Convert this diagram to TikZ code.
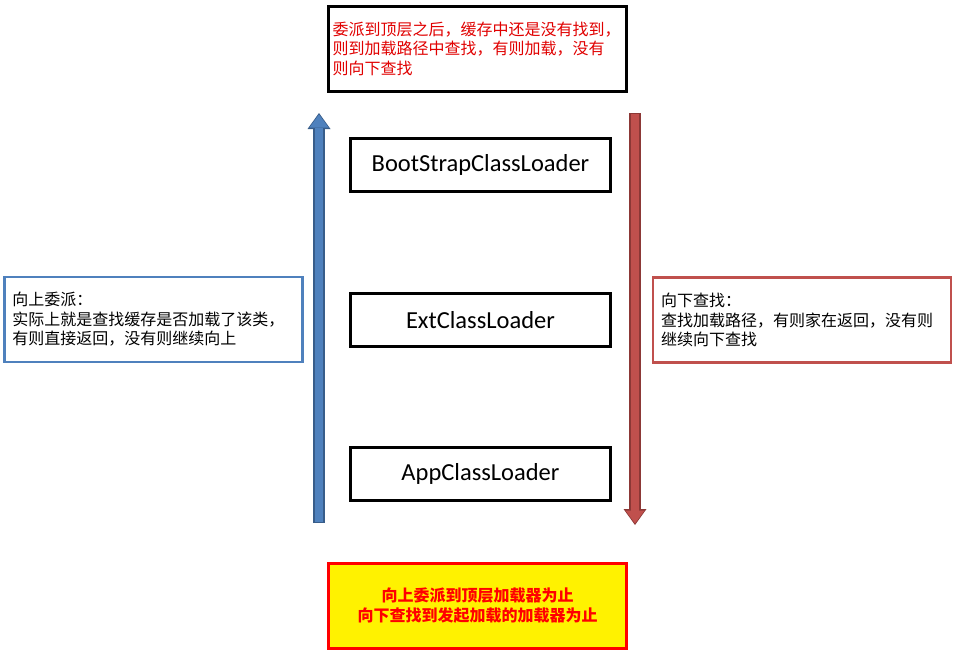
\documentclass[tikz,border=0pt]{standalone}
\usepackage{fontspec}
\setmainfont{Noto Sans CJK SC}
\newfontfamily\latinfont{Carlito}
\usetikzlibrary{arrows.meta}

\definecolor{upblue}{HTML}{4F81BD}
\definecolor{upblueedge}{HTML}{385D8A}
\definecolor{downred}{HTML}{C0504D}
\definecolor{downrededge}{HTML}{8C3836}
\definecolor{notered}{HTML}{E00000}

\tikzset{
  loader/.style={draw=black, line width=3pt, minimum width=260pt, minimum height=53pt,
    font=\latinfont\fontsize{24.5}{28}\selectfont},
  note/.style={line width=2.5pt, minimum height=85pt, text width=282pt, inner xsep=8pt,
    align=left, font=\fontsize{16}{19.5}\selectfont},
}

\begin{document}
\begin{tikzpicture}[x=1pt, y=-1pt]
    \useasboundingbox (0,0) rectangle (961,662);

    % top note
    \node[note, draw=black, line width=3pt, text width=290pt, inner xsep=4pt, text=notered] (topnote) at (477.5,48.5)
      {委派到顶层之后，缓存中还是没有找到，\\则到加载路径中查找，有则加载，没有\\则向下查找};

    % class loaders
    \node[loader] (boot) at (480.5,165) {BootStrapClassLoader};
    \node[loader] (ext) at (480.5,320) {ExtClassLoader};
    \node[loader] (app) at (480.5,474) {AppClassLoader};

    % side notes
    \node[note, draw=upblue] (upnote) at (153.5,319.5)
      {向上委派：\\实际上就是查找缓存是否加载了该类，\\有则直接返回，没有则继续向上};
    \node[note, draw=downred] (downnote) at (802,320)
      {向下查找：\\查找加载路径，有则家在返回，没有则\\继续向下查找};

    % arrows
    \coordinate (upfoot) at (319,523);
    \coordinate (uptip) at (319,113);
    \coordinate (downfoot) at (635,113);
    \coordinate (downtip) at (635,525);
    \draw[upblueedge, line width=11.5pt, -{Triangle[width=23pt, length=16pt, line width=0pt]}] (upfoot) -- (uptip);
    \draw[upblue, line width=8.5pt, shorten >=1.5pt, -{Triangle[width=19pt, length=13pt, line width=0pt]}] (upfoot) ++(0,-1) -- (uptip);
    \draw[downrededge, line width=11.5pt, -{Triangle[width=23pt, length=16pt, line width=0pt]}] (downfoot) -- (downtip);
    \draw[downred, line width=8.5pt, shorten >=1.5pt, -{Triangle[width=19pt, length=13pt, line width=0pt]}] (downfoot) ++(0,1) -- (downtip);

    % bottom note
    \node[note, draw=red, line width=3pt, fill=yellow, align=center, text=red,
      font=\fontsize{16}{20}\selectfont\bfseries] (endnote) at (477.5,606)
      {向上委派到顶层加载器为止\\向下查找到发起加载的加载器为止};
\end{tikzpicture}
\end{document}
